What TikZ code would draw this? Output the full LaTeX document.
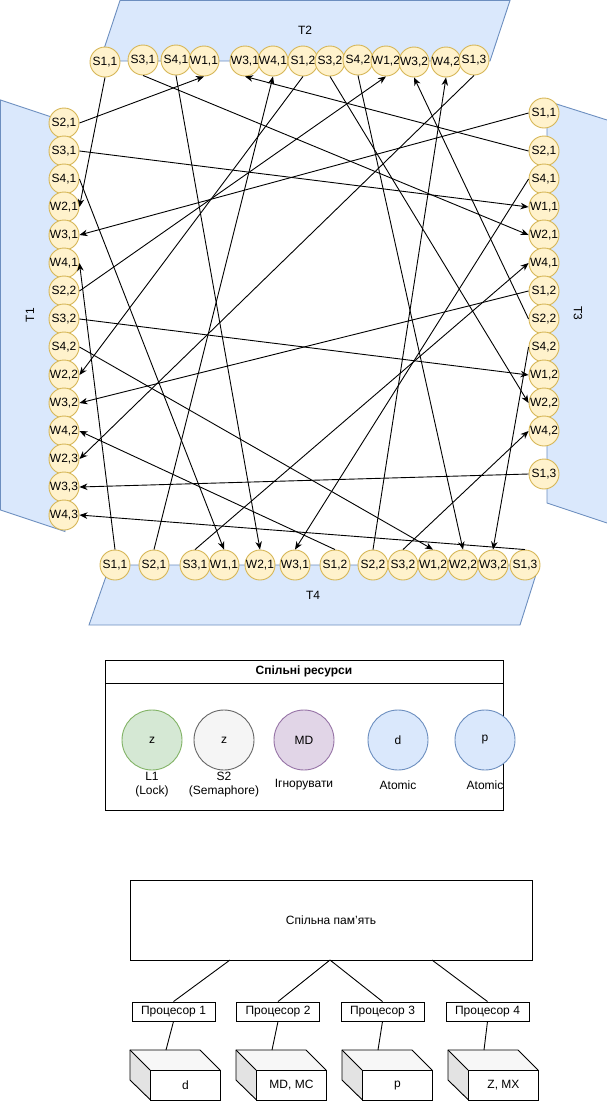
\documentclass[tikz,border=0pt]{standalone}
\usepackage{fontspec}
\setmainfont{Liberation Sans}
\usetikzlibrary{arrows.meta,calc}
\definecolor{yfill}{HTML}{FFF2CC}
\definecolor{ydraw}{HTML}{D6B656}
\definecolor{bfill}{HTML}{DAE8FC}
\definecolor{bdraw}{HTML}{6C8EBF}
\definecolor{gfill}{HTML}{D5E8D4}
\definecolor{gdraw}{HTML}{82B366}
\definecolor{sfill}{HTML}{F5F5F5}
\definecolor{sdraw}{HTML}{666666}
\definecolor{pfill}{HTML}{E1D5E7}
\definecolor{pdraw}{HTML}{9673A6}
\newcommand\mylbl[1]{\makebox[0pt]{#1}}
\begin{document}
\begin{tikzpicture}[x=1pt,y=-1pt,line width=0.9pt,
  font=\fontsize{12}{14}\selectfont,
  sn/.style={circle, draw=ydraw, fill=yfill, minimum size=30pt, inner sep=0pt},
  arr/.style={-{Stealth[length=8pt,width=6.5pt,inset=2.5pt]}},
  tshape/.style={fill=bfill, draw=bdraw},
  rescirc/.style={circle, minimum size=60pt, inner sep=0pt},
  procbox/.style={draw, minimum width=83pt, minimum height=19pt, inner sep=0pt},
  boxlbl/.style={align=center, inner sep=0pt}]
\useasboundingbox (0,0) rectangle (607,1101);

% thread shapes
\path[tshape] (100,61) -- (490,61) -- (510,0.5) -- (120,0.5) -- cycle;
\path[tshape] (0.5,100) -- (65,121.5) -- (65,531.5) -- (0.5,510) -- cycle;
\fill[bfill] (547,101) -- (607,120) -- (607,523) -- (547,503) -- cycle;
\draw[bdraw] (607,120) -- (547,101) -- (547,503) -- (607,523);
\path[tshape] (110,565) -- (539,565) -- (520,625) -- (89,625) -- cycle;
\node (T2) at (305,30) {T2};
\node[rotate=90] (T1) at (30,315) {T1};
\node[rotate=-90] (T3) at (578,313) {T3};
\node (T4) at (313,595) {T4};

% top row (T2)
\foreach \n/\x/\y/\t in {tS11/105/62/{S1,1}, tS31/143/60/{S3,1}, tS41/176/60/{S4,1},
  tW11/204/61/{W1,1}, tW31/245/61/{W3,1}, tW41/273/61/{W4,1}, tS12/303/61/{S1,2},
  tS32/330/61/{S3,2}, tS42/358/60/{S4,2}, tW12/386/61/{W1,2}, tW32/414/62/{W3,2},
  tW42/446/62/{W4,2}, tS13/474/60/{S1,3}}
  \node[sn] (\n) at (\x,\y) {\mylbl{\t}};

% left column (T1)
\foreach \n/\t [count=\i from 0] in {lS21/{S2,1}, lS31/{S3,1}, lS41/{S4,1}, lW21/{W2,1},
  lW31/{W3,1}, lW41/{W4,1}, lS22/{S2,2}, lS32/{S3,2}, lS42/{S4,2}, lW22/{W2,2},
  lW32/{W3,2}, lW42/{W4,2}, lW23/{W2,3}, lW33/{W3,3}, lW43/{W4,3}}
  \node[sn] (\n) at (64,{123+28*\i}) {\mylbl{\t}};

% right column (T3)
\foreach \n/\y/\t in {rS11/113/{S1,1}, rS21/151/{S2,1}, rS41/179/{S4,1}, rW11/207/{W1,1},
  rW21/235/{W2,1}, rW41/263/{W4,1}, rS12/291/{S1,2}, rS22/319/{S2,2}, rS42/347/{S4,2},
  rW12/375/{W1,2}, rW22/403/{W2,2}, rW42/431/{W4,2}, rS13/474/{S1,3}}
  \node[sn] (\n) at (544,\y) {\mylbl{\t}};

% bottom row (T4)
\foreach \n/\x/\t in {bS11/115/{S1,1}, bS21/154/{S2,1}, bS31/195/{S3,1}, bW11/224/{W1,1},
  bW21/260/{W2,1}, bW31/295/{W3,1}, bS12/335/{S1,2}, bS22/373/{S2,2}, bS32/403/{S3,2},
  bW12/433/{W1,2}, bW22/463/{W2,2}, bW32/493/{W3,2}, bS13/525/{S1,3}}
  \node[sn] (\n) at (\x,565) {\mylbl{\t}};

% connectors
\draw[arr] (lS21.east) -- (tW11.south);
\draw[arr] (lS31.east) -- (rW11.west);
\draw[arr] (lS41.east) -- (bW11.north);
\draw[arr] (lS22.east) -- (tW12.south);
\draw[arr] (lS32.east) -- (rW12.west);
\draw[arr] (lS42.east) -- (bW12.north);
\draw[arr] (tS11.south) -- (lW21.east);
\draw[arr] (tS31.south) -- (rW21.west);
\draw[arr] (tS41.south) -- (bW21.north);
\draw[arr] (tS12.south) -- (lW22.east);
\draw[arr] (tS32.south) -- (rW22.west);
\draw[arr] (tS42.south) -- (bW22.north);
\draw[arr] (tS13.south) -- (lW23.east);
\draw[arr] (rS11.west) -- (lW31.east);
\draw[arr] (rS21.west) -- (tW31.south);
\draw[arr] (rS41.west) -- (bW31.north);
\draw[arr] (rS12.west) -- (lW32.east);
\draw[arr] (rS22.west) -- (tW32.south);
\draw[arr] (rS42.west) -- (bW32.north);
\draw[arr] (rS13.west) -- (lW33.east);
\draw[arr] (bS11.north) -- (lW41.east);
\draw[arr] (bS21.north) -- (tW41.south);
\draw[arr] (bS31.north) -- (rW41.west);
\draw[arr] (bS12.north) -- (lW42.east);
\draw[arr] (bS22.north) -- (tW42.south);
\draw[arr] (bS32.north) -- (rW42.west);
\draw[arr] (bS13.north) -- (lW43.east);

% shared resources
\node[draw, minimum width=398pt, minimum height=150pt, anchor=north west, inner sep=0pt] (res) at (105,660) {};
\draw (105,683) -- (503,683);
\node[font=\fontsize{12}{14}\selectfont\bfseries] (restitle) at (304,671.5) {Спільні ресурси};
\node[rescirc, draw=gdraw, fill=gfill] (r1) at (152,740) {z};
\node[rescirc, draw=sdraw, fill=sfill] (r2) at (224,740) {z};
\node[rescirc, draw=pdraw, fill=pfill] (r3) at (304,740) {MD};
\node[rescirc, draw=bdraw, fill=bfill] (r4) at (398,740) {d};
\node[rescirc, draw=bdraw, fill=bfill] (r5) at (485,740) {p};
\node[boxlbl] (rl1) at (152,785) {L1\\(Lock)};
\node[boxlbl] (rl2) at (224,785) {S2\\(Semaphore)};
\node[boxlbl] (rl3) at (304,785) {Ігнорувати};
\node[boxlbl] (rl4) at (398,785) {Atomic};
\node[boxlbl] (rl5) at (485,785) {Atomic};

% shared memory
\node[draw, minimum width=402pt, minimum height=80pt, anchor=north west, inner sep=0pt] (mem) at (130,880) {};
\node (memtxt) at (331,920) {Спільна пам’ять};
\node[procbox] (p1) at (173.5,1011.5) {Процесор 1};
\node[procbox] (p2) at (278,1011.5) {Процесор 2};
\node[procbox] (p3) at (382.5,1011.5) {Процесор 3};
\node[procbox] (p4) at (487.5,1011.5) {Процесор 4};
\coordinate (m1) at (230,960);
\coordinate (m2) at (330,960);
\coordinate (m3) at (432,960);
\draw (m1) -- (p1.north);
\draw (m2) -- (p2.north);
\draw (m2) -- (p3.north);
\draw (m3) -- (p4.north);

\foreach \i/\x/\t in {1/130/d, 2/236/{MD, MC}, 3/342/p, 4/448/{Z, MX}} {
  \fill[gray!6] (\x,1050) -- (\x+70,1050) -- (\x+90,1070) -- (\x+20,1070) -- cycle;
  \fill[gray!22] (\x,1050) -- (\x+20,1070) -- (\x+20,1099.5) -- (\x,1080) -- cycle;
  \draw (\x+70,1050) -- (\x,1050) -- (\x,1080) -- (\x+20,1099.5);
  \draw (\x,1050) -- (\x+20,1070);
  \draw (\x+70,1050) -- (\x+90,1070);
  \node[draw, minimum width=70pt, minimum height=29.5pt, anchor=north west, inner sep=0pt] (cube\i) at (\x+20,1070) {\t};
  \coordinate (ct\i) at (\x+36,1050);
  \draw (p\i.south) -- (ct\i);
}
\end{tikzpicture}
\end{document}
